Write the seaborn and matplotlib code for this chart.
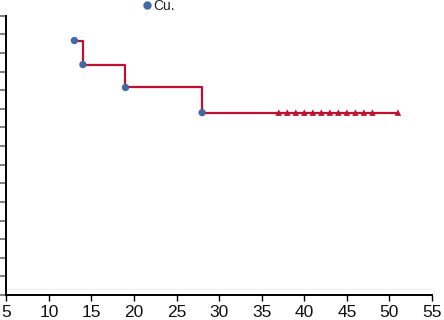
import matplotlib
matplotlib.use("Agg")
import matplotlib.pyplot as plt
import seaborn as sns
import pandas as pd
import numpy as np

# Data
event_times = [13, 14, 19, 28]
event_surv = [0.911, 0.825, 0.743, 0.653]
censor_times = [37, 38, 39, 40, 41, 42, 43, 44, 45, 46, 47, 48, 51]
censor_surv = [0.653] * len(censor_times)
curve_end = 51
x_ticks = [5, 10, 15, 20, 25, 30, 35, 40, 45, 50, 55]
legend_label = "Cu."

sns.set_style("ticks")
plt.rcParams["font.family"] = ["Liberation Sans Narrow", "Liberation Sans", "DejaVu Sans"]

fig = plt.figure(figsize=(4.44, 3.2), dpi=100)
ax = fig.add_axes([6.3 / 444, 25 / 320, (432 - 6.3) / 444, (295 - 15.7) / 320])

line_color = "#c0102f"
dot_color = "#4369a6"

curve = pd.DataFrame({
    "time": event_times + [curve_end],
    "surv": event_surv + [event_surv[-1]],
})
sns.lineplot(data=curve, x="time", y="surv", drawstyle="steps-post",
             color=line_color, linewidth=1.6, ax=ax, zorder=2)

ev = pd.DataFrame({"time": event_times, "surv": event_surv})
sns.scatterplot(data=ev, x="time", y="surv", color=dot_color, s=28,
                edgecolor="none", ax=ax, zorder=3)

cen = pd.DataFrame({"time": censor_times, "surv": censor_surv})
sns.scatterplot(data=cen, x="time", y="surv", marker="^", color=line_color,
                s=22, edgecolor="none", ax=ax, zorder=3)

ax.axhline(0.021, color="#f0f0f0", linewidth=1.0, zorder=0)

ax.set_xlim(5, 55)
ax.set_ylim(0, 1.0)
ax.set_xticks(x_ticks)
ax.set_xticklabels([str(t) for t in x_ticks])
ax.set_yticks(np.arange(16) / 15)
ax.set_yticklabels([])
ax.set_xlabel("")
ax.set_ylabel("")

for s in ["top", "right"]:
    ax.spines[s].set_visible(False)
for s in ["left", "bottom"]:
    ax.spines[s].set_color("black")
    ax.spines[s].set_linewidth(1.4)

ax.tick_params(axis="x", direction="out", length=4.5, width=1.0, color="black",
               labelsize=12.5, pad=3.0, labelcolor="#111111")
ax.tick_params(axis="y", direction="out", length=4.5, width=1.4, color="#808080")

# Legend entry at the top edge
fig.add_artist(plt.Line2D([146.7 / 444], [1 - 4.6 / 320], marker="o", color=dot_color,
                          markersize=5, linestyle="none", transform=fig.transFigure))
fig.text(153 / 444, 1 - 9.5 / 320, legend_label, fontsize=10, color="#222222",
         ha="left", va="baseline")

fig.savefig("out.png", dpi=100)
